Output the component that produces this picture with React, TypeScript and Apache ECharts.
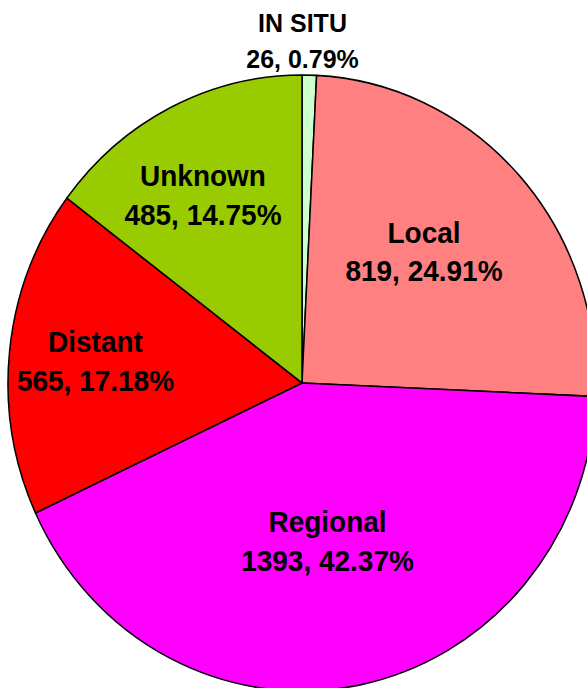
import React, { useEffect, useRef } from "react";
import * as echarts from "echarts";

const categories = ["IN SITU", "Local", "Regional", "Distant", "Unknown"];
const values = [26, 819, 1393, 565, 485];
const colors = ["#CCFFCC", "#FF8080", "#FF00FF", "#FF0000", "#99CC00"];

// label anchor points (unscaled chart px), one per slice
const labelPos: [number, number][] = [
  [302.5, 39],
  [424, 240.3],
  [327.5, 516.4],
  [95.5, 345.1],
  [203, 186.1],
];

const W = 587;
const H = 688;
const SY = 308 / 294; // vertical stretch of the original picture
const innerH = Math.round(H / SY);

export default function App() {
  const ref = useRef<HTMLDivElement>(null);
  useEffect(() => {
    if (!ref.current) return;
    const chart = echarts.init(ref.current, undefined, { renderer: "svg" });
    const font = "'Liberation Sans', Arial, sans-serif";
    chart.setOption({
      animation: false,
      backgroundColor: "#ffffff",
      series: [
        {
          type: "pie",
          center: [302, 383 / SY],
          radius: 294,
          startAngle: 90,
          clockwise: true,
          silent: true,
          avoidLabelOverlap: false,
          percentPrecision: 2,
          itemStyle: { borderColor: "#000", borderWidth: 1.5 },
          label: {
            show: true,
            position: "inside",
            formatter: "{b}\n{c}, {d}%",
            color: "#000",
            fontWeight: "bold",
            fontFamily: font,
            fontSize: 28,
            lineHeight: 37,
            textBorderWidth: 0,
          },
          labelLine: { show: false },
          labelLayout: (params: any) => {
            const p = labelPos[params.dataIndex];
            return { x: p[0], y: p[1], align: "center", verticalAlign: "middle" };
          },
          data: categories.map((name, i) => ({
            name,
            value: values[i],
            itemStyle: { color: colors[i] },
            label: i === 0 ? { fontSize: 25, lineHeight: 34 } : undefined,
          })),
        },
      ],
    });
    return () => chart.dispose();
  }, []);
  return (
    <div
      style={{
        position: "fixed",
        left: 0,
        top: 0,
        width: W,
        height: H,
        overflow: "hidden",
        background: "#fff",
      }}
    >
      <div
        ref={ref}
        style={{
          width: W,
          height: innerH,
          transform: `scaleY(${SY})`,
          transformOrigin: "0 0",
        }}
      />
    </div>
  );
}
